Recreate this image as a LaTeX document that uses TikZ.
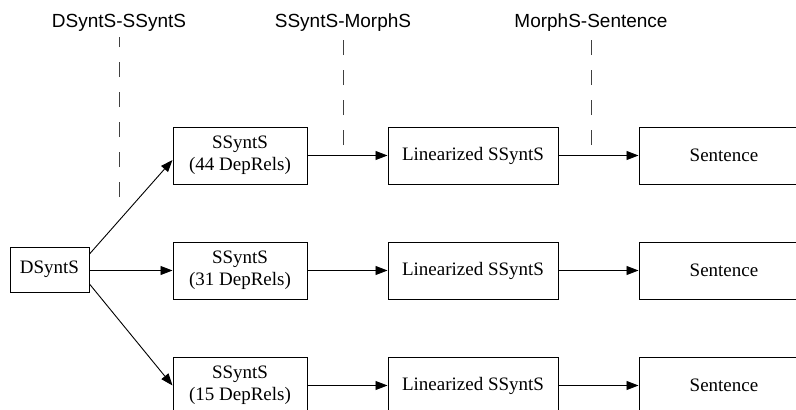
\documentclass[tikz,border=0pt]{standalone}
\usepackage{fontspec}
\setmainfont{Liberation Serif}
\newfontfamily\labelfont{Liberation Sans}
\usetikzlibrary{arrows.meta}

\begin{document}
\begin{tikzpicture}[x=1pt,y=-1pt,
  box/.style={draw, line width=1pt, inner sep=0pt, align=center,
              minimum height=57pt, font=\fontsize{19}{22}\selectfont},
  flow/.style={line width=0.9pt, -{Triangle[length=12pt,width=9pt]}},
  stage/.style={font=\labelfont\fontsize{19}{22}\selectfont, inner sep=0pt},
  divider/.style={line width=1pt, draw=black!75, dash pattern=on 15pt off 15pt}]
\useasboundingbox (0,0) rectangle (796,410);
\clip (0,0) rectangle (796,410);

% source structure
\node[box, minimum width=79pt, minimum height=45pt] (ds) at (49.5,269.5) {DSyntS};

% three pipelines, one per relation set
\foreach \r/\y/\n in {1/155.5/44, 2/270.5/31, 3/385.5/15} {
  \node[box, minimum width=134pt] (s\r) at (240,\y) {SSyntS\\(\n{} DepRels)};
  \node[box, minimum width=170pt] (l\r) at (473,\y) {Linearized SSyntS};
  \node[box, minimum width=170pt] (t\r) at (724,\y) {Sentence};
  \draw[flow] (s\r) -- (l\r);
  \draw[flow] (l\r) -- (t\r);
}

% branching from the deep-syntactic structure
\draw[flow] ([yshift=15.5pt]ds.east) -- ([yshift=-4.5pt]s1.west);
\draw[flow] (ds.east |- s2.west) -- (s2.west);
\draw[flow] ([yshift=-14.5pt]ds.east) -- (s3.west);

% stage labels with their dividers
\node[stage] (ka) at (119,23) {DSyntS-SSyntS};
\node[stage] (kb) at (343,23) {SSyntS-MorphS};
\node[stage] (kc) at (591,23) {MorphS-Sentence};
\coordinate (ka-end) at (119,197);
\coordinate (kb-end) at (343,145);
\coordinate (kc-end) at (591,145);
\draw[divider] (ka-end) -- (ka |- 0,37);
\draw[divider] (kb-end) -- (kb |- 0,37);
\draw[divider] (kc-end) -- (kc |- 0,37);
\end{tikzpicture}
\end{document}
